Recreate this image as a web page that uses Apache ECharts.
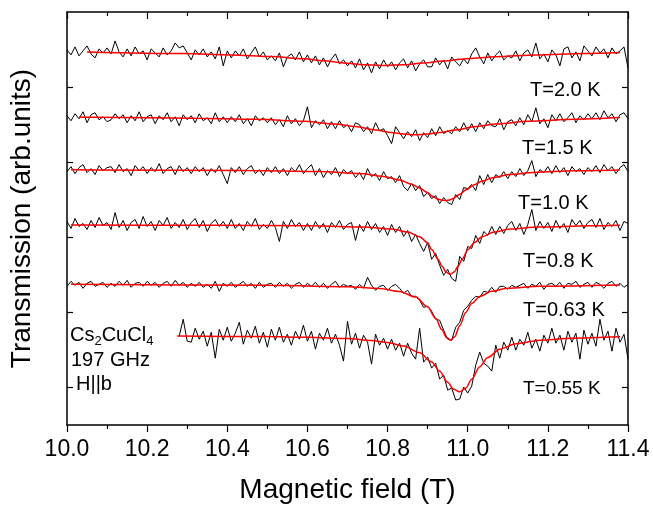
<!DOCTYPE html>
<html>
<head>
<meta charset="utf-8">
<script src="https://cdn.jsdelivr.net/npm/echarts@6/dist/echarts.min.js"></script>
<style>
  html, body { margin: 0; background: #fff; }
  #chart { width: 653px; height: 509px; }
</style>
</head>
<body>
<div id="chart"></div>
<script>
// field sweeps, 0.01 T per point; transmission in arb. units (traces offset)
const fieldStep = 0.01;
const startField = [10.0, 10.0, 10.0, 10.0, 10.0, 10.28];
const tempLabels = ["T=2.0 K", "T=1.5 K", "T=1.0 K", "T=0.8 K", "T=0.63 K", "T=0.55 K"];
const yTicks = [38, 113, 188, 263, 339];

const t20 = [376,371,379,370,375,380,372,368,377,373,378,
  372,385,374,369,377,370,379,372,375,366,377,373,369,378,371,
  375,383,378,380,373,366,376,371,377,369,374,367,379,360,375,
  368,375,370,377,367,373,379,369,374,366,
  370,365,373,359,369,372,366,374,364,371,
  363,370,361,368,359,367,372,362,366,360,
  365,358,367,356,363,353,364,357,366,359,
  364,356,363,367,358,365,355,362,366,359,
  359,368,361,366,357,369,364,360,367,362,
  372,378,369,362,373,365,371,375,366,370,
  368,375,365,373,376,369,383,367,372,364,
  376,371,360,377,379,368,374,365,380,375,
  370,379,373,377,368,378,372,375,379,358];
const t15 = [310,305,312,307,314,303,311,313,306,309,304,
  306,312,307,311,303,310,305,314,304,309,311,302,310,306,313,
  304,309,300,311,306,310,303,312,305,308,302,313,304,309,303,
  309,304,311,302,307,300,310,305,308,303,
  308,301,306,299,310,302,307,300,305,319,
  298,305,301,306,297,304,
  297,305,298,301,294,303,
  301,294,299,292,303,295,
  297,290,282,299,293,
  287,294,289,296,285,293,288,
  297,290,299,292,295,
  292,299,294,303,295,
  302,294,303,297,305,300,
  299,307,296,304,306,300,
  308,301,311,304,318,302,307,298,
  311,305,312,304,308,313,303,310,306,312,
  307,313,306,315,308,312,304,311,313,307];
const t10 = [254,259,252,258,261,253,257,251,260,255,258,
  259,253,261,254,257,250,260,255,259,252,
  258,254,262,252,257,259,251,260,254,258,
  252,259,254,258,250,257,253,260,251,242,
  258,253,259,251,257,260,252,256,250,258,
  253,259,252,257,250,258,254,261,252,257,
  261,250,257,248,255,251,258,249,256,252,
  255,248,253,246,257,249,
  252,245,254,247,
  249,243,250,239,235,242,235,240,229,233,
  227,230,222,228,223,221,231,226,238,237,
  241,235,250,241,251,243,251,248,254,247,
  254,249,257,250,255,265,249,256,253,259,
  252,260,253,258,250,259,254,257,251,258,
  254,260,253,261,255,259,252,258,261,254];
const t08 = [204,197,207,199,202,196,205,198,208,200,203,
  196,213,198,205,195,203,206,197,209,199,
  204,195,205,200,208,197,203,198,206,196,
  203,207,198,205,194,202,206,199,204,197,
  206,197,202,195,204,199,207,196,201,197,
  205,198,184,204,197,206,199,203,195,202,
  195,204,197,202,193,203,198,205,196,201,
  203,185,201,194,204,196,202,193,
  199,190,201,193,
  199,189,195,184,191,182,174,183,
  166,172,160,150,156,147,144,169,164,179,
  177,190,182,194,190,199,191,199,192,200,
  204,195,202,191,201,216,195,204,197,203,
  194,205,197,202,193,206,200,205,197,203,
  206,198,207,196,203,199,205,195,204,202];
const t063 = [139,144,140,143,137,142,144,139,141,143,138,
  142,139,144,140,145,138,142,143,139,144,
  140,143,138,142,144,139,145,140,143,138,
  142,139,143,138,141,137,144,134,142,139,
  143,138,141,144,139,142,137,143,138,141,
  142,138,143,139,142,137,141,143,138,142,
  139,143,138,142,137,141,144,138,141,139,
  140,136,141,137,148,140,135,139,
  140,135,139,141,
  137,132,135,129,129,125,118,119,
  114,106,105,95,86,85,98,103,115,119,
  125,129,128,134,133,138,133,139,139,136,
  140,138,140,142,137,141,139,143,136,141,
  142,139,143,137,142,141,144,138,141,143,
  138,143,141,137,142,144,139,142,138,141];
const t055 = [89,106,84,
  83,97,86,94,79,93,67,96,85,98,
  84,92,103,81,95,87,99,82,93,78,
  96,85,98,83,91,80,94,86,100,84,
  94,76,92,85,97,82,91,80,64,104,
  81,92,77,90,83,61,
  91,80,87,76,
  86,75,82,69,82,72,66,97,63,68,
  57,62,46,50,35,37,25,26,38,32,
  39,60,73,62,59,54,80,67,83,75,
  88,75,86,80,93,77,86,74,90,82,
  97,82,90,75,94,83,92,66,95,81,
  92,79,106,85,94,74,97,83,91,66];

// fitted curves (red)
const fit20F = [10.05,10.29,10.41,10.51,10.59,10.64,10.69,10.74,10.79,10.84,10.89,10.94,10.99,11.07,11.17,11.29,11.38];
const fit20V = [374,372.3,371,369.3,367.2,365.2,363,361.2,360.4,361.1,362.8,364.9,366.9,369.2,370.9,372.3,373.3];
const fit15F = [10.03,10.07,10.32,10.47,10.59,10.67,10.72,10.77,10.81,10.84,10.87,10.90,10.93,10.97,11.02,11.07,11.15,11.27,11.38];
const fit15V = [308.7,308.4,307.5,306.4,304.4,301.7,299.1,295.8,293.1,291.6,291,291.6,293.1,295.8,299.1,301.7,304.4,306.6,308.2];
const fit10F = [10.01,10.05,10.45,10.63,10.73,10.79,10.83,10.86,10.88,10.90,10.91,10.925,10.935,10.945,10.955,10.965,10.98,10.995,11.015,11.035,11.065,11.105,11.165,11.265,11.38];
const fit10V = [256,255.7,255.1,254,252,249.2,245.6,241.4,237.5,233,229.5,226.6,225.4,225,225.6,227.3,231.2,235.5,240.5,244.3,248.1,251,253.2,254.8,255.6];
const fit08F = [10.01,10.36,10.61,10.74,10.81,10.85,10.88,10.90,10.91,10.926,10.936,10.946,10.956,10.966,10.976,10.986,11.001,11.016,11.036,11.066,11.106,11.176,11.306,11.38];
const fit08V = [200.5,200.2,199.7,198.5,196.4,193.4,188.6,182.7,175.8,166.2,159.2,153.3,151,153.3,159.2,166.2,175.8,182.7,188.6,193.4,196.4,198.5,199.7,200.2];
const fit063F = [10.01,10.50,10.70,10.78,10.83,10.87,10.90,10.92,10.935,10.948,10.958,10.968,10.98,10.995,11.01,11.03,11.06,11.10,11.18,11.38];
const fit063V = [141,140,138.7,136.9,133.9,128.2,118.5,106.9,95.7,87.4,85,88.8,99.5,112.8,121.8,128.9,134,137,139,140.3];
const fit055F = [10.275,10.50,10.60,10.70,10.76,10.80,10.84,10.88,10.91,10.93,10.95,10.965,10.98,10.995,11.01,11.03,11.05,11.08,11.12,11.18,11.26,11.38];
const fit055V = [89.3,88.6,88,86.6,84.7,82.8,79.1,72.4,63.1,53.8,42.8,35.8,33.3,36.9,45.9,58.4,67.6,76,81.5,85,87,88.4];

const traces = [t20, t15, t10, t08, t063, t055];
const fits = [[fit20F, fit20V], [fit15F, fit15V], [fit10F, fit10V],
              [fit08F, fit08V], [fit063F, fit063V], [fit055F, fit055V]];

const font = "'Liberation Sans', Arial, sans-serif";
const labelPos = [[530, 90], [522, 148], [518, 203], [523, 261], [523, 310], [523, 389]];
const labelSize = [20, 20, 20, 20, 20, 19];

const chart = echarts.init(document.getElementById("chart"));

const series = [];
traces.forEach((vals, k) => {
  series.push({
    type: "line", showSymbol: false, silent: true, z: 2,
    lineStyle: { color: "#000", width: 1 },
    data: vals.map((v, i) => [+(startField[k] + i * fieldStep).toFixed(2), v]),
  });
});
fits.forEach(([f, v]) => {
  series.push({
    type: "line", showSymbol: false, silent: true, z: 3,
    smooth: 0.3, smoothMonotone: "x",
    lineStyle: { color: "#ff0000", width: 1.5 },
    data: f.map((x, i) => [x, v[i]]),
  });
});

const xBase = {
  type: "value", min: 10, max: 11.4, interval: 0.2,
  splitLine: { show: false },
  axisLine: { onZero: false, lineStyle: { color: "#000", width: 1.5 } },
  minorTick: { show: true, splitNumber: 2, length: 4, lineStyle: { color: "#000", width: 1.2 } },
};
const yBase = {
  type: "value", min: 0, max: 414,
  splitLine: { show: false },
  axisLabel: { show: false },
  axisLine: { onZero: false, lineStyle: { color: "#000", width: 1.5 } },
  axisTick: { inside: true, length: 6, customValues: yTicks, lineStyle: { color: "#000", width: 1.2 } },
};

const graphics = tempLabels.map((t, k) => ({
  type: "text", x: labelPos[k][0], y: labelPos[k][1], silent: true,
  style: { text: t, fill: "#000", font: `${labelSize[k]}px ${font}`, textVerticalAlign: "middle" },
}));
graphics.push({
  type: "text", x: 70, y: 322, silent: true,
  style: {
    text: "{n|Cs}{s|2}{n|CuCl}{s|4}",
    rich: {
      n: { fontSize: 20, fontFamily: font, fill: "#000", lineHeight: 26 },
      s: { fontSize: 13, fontFamily: font, fill: "#000", lineHeight: 12, verticalAlign: "bottom" },
    },
  },
});
graphics.push({
  type: "text", x: 71, y: 360, silent: true,
  style: { text: "197 GHz", fill: "#000", font: `20px ${font}`, textVerticalAlign: "middle" },
});
graphics.push({
  type: "text", x: 76, y: 384, silent: true,
  style: { text: "H||b", fill: "#000", font: `20px ${font}`, textVerticalAlign: "middle" },
});

chart.setOption({
  animation: false,
  backgroundColor: "#fff",
  textStyle: { fontFamily: font },
  grid: { left: 64, right: 25, top: 12, bottom: 83 },
  xAxis: [
    {
      ...xBase, position: "bottom",
      axisTick: { inside: false, length: 7, lineStyle: { color: "#000", width: 1.2 } },
      axisLabel: { fontSize: 23, color: "#000", margin: 13, formatter: (v) => v.toFixed(1) },
      name: "Magnetic field (T)", nameLocation: "middle", nameGap: 51,
      nameTextStyle: { fontSize: 28, color: "#000" },
    },
    {
      ...xBase, position: "top",
      axisTick: { inside: true, length: 7, lineStyle: { color: "#000", width: 1.2 } },
      axisLabel: { show: false },
    },
  ],
  yAxis: [
    {
      ...yBase, position: "left",
      name: "Transmission (arb.units)", nameLocation: "middle", nameGap: 31,
      nameTextStyle: { fontSize: 28, color: "#000" },
    },
    { ...yBase, position: "right" },
  ],
  series,
  graphic: graphics,
});
</script>
</body>
</html>
